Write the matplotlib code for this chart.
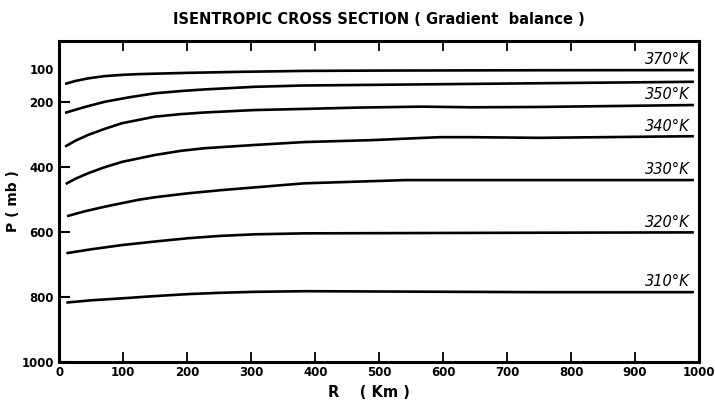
import matplotlib
matplotlib.use("Agg")
import matplotlib.pyplot as plt

# radius (km) / pressure (mb)
r_370 = [9, 25, 45, 71, 100, 123, 160, 201, 279, 383, 500, 750, 992]
p_370 = [145, 136, 128, 121, 117, 115, 113, 111, 108, 105, 104, 103, 102.5]

r_360 = [9, 40, 71, 110, 149, 190, 227, 305, 380, 567, 750, 992]
p_360 = [234, 216, 200, 186, 174, 167, 162, 154, 150, 146.5, 143, 138.5]

r_350 = [9, 25, 45, 70, 98, 149, 190, 227, 305, 383, 464, 567, 645, 750, 992]
p_350 = [338, 320, 302, 284, 266, 246, 238, 233, 225.5, 222, 218, 215, 217, 216, 210]

r_340 = [10, 25, 45, 70, 98, 149, 190, 227, 305, 383, 489, 594, 645, 750, 992]
p_340 = [453, 437, 420, 402, 385, 364, 351, 343, 333, 324, 318, 309, 309, 311, 306]

r_330 = [12, 40, 71, 98, 123, 149, 200, 253, 383, 542, 750, 992]
p_330 = [552, 537, 523, 512, 502, 494, 482, 472, 451, 441, 441, 441]

r_320 = [11, 50, 98, 150, 201, 250, 305, 383, 750, 992]
p_320 = [666, 654, 641, 630, 620, 613, 608, 605, 603, 602]

r_310 = [11, 50, 98, 150, 201, 250, 305, 383, 750, 992]
p_310 = [818, 811, 805, 798, 792, 788, 785, 783, 786, 786]

labels = ["370°K", "350°K", "340°K", "330°K", "320°K", "310°K"]
label_p = [70, 179, 277, 410, 572, 752]

x_ticks = [0, 100, 200, 300, 400, 500, 600, 700, 800, 900, 1000]
y_ticks = [100, 200, 400, 600, 800, 1000]

fig = plt.figure(figsize=(7.15, 4.04), dpi=100)
ax = fig.add_axes([0.083, 0.1047, 0.8946, 0.7938])

curves = [(r_370, p_370), (r_360, p_360), (r_350, p_350), (r_340, p_340),
          (r_330, p_330), (r_320, p_320), (r_310, p_310)]
for r, p in curves:
    ax.plot(r, p, color="black", lw=1.9, solid_capstyle="butt")

for lab, p in zip(labels, label_p):
    ax.text(985, p, lab, ha="right", va="center", fontsize=10.5,
            style="italic", color="black")

ax.set_xlim(0, 1000)
ax.set_ylim(1000, 13)
ax.set_xticks(x_ticks)
ax.set_yticks(y_ticks)
ax.set_xticklabels([str(v) for v in x_ticks], fontsize=8.5, fontweight="bold")
ax.set_yticklabels([str(v) for v in y_ticks], fontsize=8.5, fontweight="bold")
ax.tick_params(axis="x", direction="in", length=7, width=1.3, top=True, pad=3)
ax.tick_params(axis="y", direction="in", length=8, width=1.5, pad=4)
# no tick mark at 100 mb, only the label
ax.yaxis.get_major_ticks()[0].tick1line.set_visible(False)
ax.xaxis.get_major_ticks()[0].tick1line.set_visible(False)
ax.xaxis.get_major_ticks()[-1].tick1line.set_visible(False)
ax.xaxis.get_major_ticks()[0].tick2line.set_visible(False)
ax.xaxis.get_major_ticks()[-1].tick2line.set_visible(False)

for s in ax.spines.values():
    s.set_linewidth(2.2)

ax.set_title("ISENTROPIC CROSS SECTION ( Gradient  balance )", fontsize=10.5,
             fontweight="semibold", pad=12)
ax.set_ylabel("P ( mb )", fontsize=10, fontweight="bold")
ax.yaxis.set_label_coords(-0.062, 0.5)
fig.text(0.516, 0.028, "R    ( Km )", fontsize=10.5, fontweight="bold",
         ha="center", va="center")

fig.savefig("out.png", dpi=100)
